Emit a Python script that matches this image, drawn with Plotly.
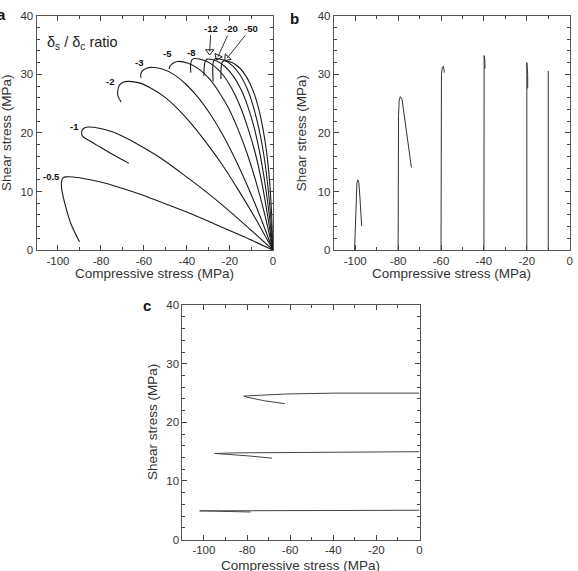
import plotly.graph_objects as go

# ---------------- data ----------------
x_tick_vals = [-100, -80, -60, -40, -20, 0]
x_tick_text = ["-100", "-80", "-60", "-40", "-20", "0"]
y_tick_vals = [0, 10, 20, 30, 40]
y_tick_text = ["0", "10", "20", "30", "40"]

# panel a : stress paths for several delta_s / delta_c ratios
ratio_labels = ["-0.5", "-1", "-2", "-3", "-5", "-8", "-12", "-20", "-50"]
a_m05_x = [0, -14.2, -27.4, -39.5, -50.7, -60.8, -69.8, -77.9, -85.0, -91.0, -96.0, -97.5, -98.4, -98.3, -96.5, -94.0, -90.0]
a_m05_y = [0, 2.4, 4.5, 6.4, 8.0, 9.4, 10.5, 11.4, 12.0, 12.4, 12.5, 12.4, 11.6, 10.5, 7.5, 4.5, 1.4]
a_m1_x = [0, -12.0, -23.2, -33.7, -43.5, -52.4, -60.7, -68.1, -74.8, -80.8, -86.0, -88.0, -89.0, -88.5, -85.5, -80.0, -74.5, -67.0]
a_m1_y = [0, 4.0, 7.6, 10.7, 13.4, 15.75, 17.6, 19.1, 20.2, 20.8, 21.0, 20.8, 20.2, 19.4, 18.7, 17.5, 16.3, 14.8]
a_m2_x = [0, -8.3, -16.3, -23.8, -31.1, -38.0, -44.5, -50.6, -56.5, -61.9, -67.0, -69.5, -71.3, -72.2, -72.0, -70.6]
a_m2_y = [0, 5.5, 10.4, 14.7, 18.4, 21.6, 24.2, 26.2, 27.6, 28.5, 28.8, 28.7, 28.2, 27.2, 26.2, 25.3]
a_m3_x = [0, -6.1, -12.1, -18.0, -23.8, -29.5, -35.1, -40.7, -46.2, -51.5, -56.8, -59.0, -60.8, -61.5, -61.4]
a_m3_y = [0, 5.9, 11.2, 15.9, 20.0, 23.4, 26.2, 28.4, 30.0, 30.9, 31.2, 31.0, 30.6, 30.0, 29.4]
a_m5_x = [0, -3.8, -7.8, -11.9, -16.2, -20.6, -25.1, -29.7, -34.4, -39.4, -44.4, -46.5, -47.9, -48.3]
a_m5_y = [0, 6.1, 11.6, 16.4, 20.6, 24.2, 27.0, 29.3, 30.9, 31.9, 32.2, 31.9, 31.4, 30.9]
a_m8_x = [0, -2.6, -5.3, -8.3, -11.7, -15.2, -19.0, -23.0, -27.3, -31.9, -36.7, -37.8, -38.3, -38.2]
a_m8_y = [0, 6.2, 11.8, 16.7, 20.9, 24.5, 27.5, 29.8, 31.4, 32.4, 32.7, 32.4, 31.5, 30.3]
a_m12_x = [0, -1.75, -3.8, -6.1, -8.7, -11.65, -14.8, -18.4, -22.2, -26.2, -30.6, -31.5, -32.0, -32.1]
a_m12_y = [0, 6.2, 11.7, 16.6, 20.9, 24.5, 27.4, 29.7, 31.3, 32.3, 32.6, 32.2, 31.0, 29.7]
a_m20_x = [0, -1.1, -2.6, -4.4, -6.6, -9.1, -11.9, -15.1, -18.6, -22.5, -26.7, -27.6, -28.0, -27.8]
a_m20_y = [0, 6.2, 11.8, 16.7, 20.9, 24.5, 27.5, 29.8, 31.4, 32.4, 32.7, 32.3, 31.0, 28.8]
a_m50_x = [0, -0.57, -1.5, -2.85, -4.6, -6.65, -9.1, -12.0, -15.2, -18.8, -22.8, -23.7, -24.1, -24.2]
a_m50_y = [0, 6.1, 11.6, 16.5, 20.7, 24.2, 27.1, 29.4, 31.0, 32.0, 32.3, 32.0, 31.0, 29.2]

# label anchor positions (data units) for the ratio labels
label_x = [-102.9, -92.2, -75.6, -62.2, -49.2, -38.1, -28.8, -19.6, -10.3]
label_y = [12.6, 21.1, 28.8, 32.1, 33.5, 33.8, 37.9, 37.8, 37.8]
# arrow tips for labels -12, -20, -50
arrow_tip_x = [-29.4, -25.6, -21.3]
arrow_tip_y = [33.9, 33.0, 32.8]
arrow_angle = [0, 24, 42]

# panel b : constant compressive displacement paths
b_m100_x = [-100.3, -99.9, -99.5, -99.2, -98.8, -98.3, -97.8, -97.2, -97.0]
b_m100_y = [0, 5, 10, 11.5, 12.0, 11.5, 9, 5, 4.1]
b_m80_x = [-80, -80, -79.8, -79.5, -79.0, -78.2, -77.0, -75.5, -73.8]
b_m80_y = [0, 17, 23, 25.5, 26.2, 25.8, 22.5, 18.5, 14.1]
b_m60_x = [-60, -60, -59.8, -59.4, -58.9, -58.6, -58.5]
b_m60_y = [0, 27, 30, 31.2, 31.4, 30.8, 30.3]
b_m40_x = [-40, -40, -39.9, -39.6, -39.5]
b_m40_y = [0, 31, 33.2, 32.5, 31.0]
b_m20_x = [-20, -20, -19.6, -19.6]
b_m20_y = [0, 32.0, 30.0, 27.6]
b_m10_x = [-10, -10]
b_m10_y = [0, 30.6]

# panel c : constant shear displacement paths
c_5_x = [0, -60, -90, -102.0, -95, -85, -78.3]
c_5_y = [5.0, 5.0, 4.95, 4.9, 4.85, 4.75, 4.7]
c_15_x = [0, -40, -65, -85, -95, -90, -80, -68.4]
c_15_y = [15.0, 14.95, 14.9, 14.8, 14.7, 14.6, 14.3, 13.9]
c_25_x = [0, -40, -62, -75, -80, -81.5, -80, -72, -62.5]
c_25_y = [25.0, 25.0, 24.85, 24.7, 24.6, 24.5, 24.3, 23.7, 23.2]

# ---------------- figure ----------------
FONT = "Liberation Sans, Arial, sans-serif"
W, H = 578, 571
fig = go.Figure()

a_curves = [(a_m05_x, a_m05_y), (a_m1_x, a_m1_y), (a_m2_x, a_m2_y), (a_m3_x, a_m3_y),
            (a_m5_x, a_m5_y), (a_m8_x, a_m8_y), (a_m12_x, a_m12_y), (a_m20_x, a_m20_y),
            (a_m50_x, a_m50_y)]
for cx, cy in a_curves:
    fig.add_trace(go.Scatter(x=cx, y=cy, mode="lines", xaxis="x", yaxis="y",
                             line=dict(color="#1a1a1a", width=1.1, shape="spline", smoothing=0.7),
                             hoverinfo="skip"))

fig.add_trace(go.Scatter(x=arrow_tip_x, y=arrow_tip_y, mode="markers", xaxis="x", yaxis="y",
                         marker=dict(symbol="triangle-down-open", size=7, angle=arrow_angle,
                                     color="#1a1a1a", line=dict(width=1, color="#1a1a1a")),
                         hoverinfo="skip"))

for cx, cy in [(b_m100_x, b_m100_y), (b_m80_x, b_m80_y), (b_m60_x, b_m60_y),
               (b_m40_x, b_m40_y), (b_m20_x, b_m20_y), (b_m10_x, b_m10_y)]:
    fig.add_trace(go.Scatter(x=cx, y=cy, mode="lines", xaxis="x2", yaxis="y2",
                             line=dict(color="#333333", width=1), hoverinfo="skip"))

for cx, cy in [(c_5_x, c_5_y), (c_15_x, c_15_y), (c_25_x, c_25_y)]:
    fig.add_trace(go.Scatter(x=cx, y=cy, mode="lines", xaxis="x3", yaxis="y3",
                             line=dict(color="#444444", width=1), hoverinfo="skip"))


def xax(domain, anchor):
    return dict(domain=domain, anchor=anchor, range=[-110, 0], tickmode="array",
                tickvals=x_tick_vals, ticktext=x_tick_text, ticks="inside", ticklen=5,
                tickcolor="#444", tickwidth=1, showline=True, linecolor="#555", linewidth=1,
                mirror="ticks", showgrid=False, zeroline=False,
                minor=dict(tickmode="linear", tick0=0, dtick=10, ticks="inside", ticklen=3,
                           tickcolor="#444", showgrid=False),
                tickfont=dict(family=FONT, size=11.5, color="#333"))


def yax(domain, anchor):
    return dict(domain=domain, anchor=anchor, range=[0, 40], tickmode="array",
                tickvals=y_tick_vals, ticktext=y_tick_text, ticks="inside", ticklen=5,
                tickcolor="#444", tickwidth=1, showline=True, linecolor="#555", linewidth=1,
                mirror="ticks", showgrid=False, zeroline=False,
                minor=dict(tickmode="linear", tick0=0, dtick=2, ticks="inside", ticklen=3,
                           tickcolor="#444", showgrid=False),
                tickfont=dict(family=FONT, size=11.5, color="#333"))


def px_x(p):
    return p / W


def px_y(p):
    return 1 - p / H


dom_a_x = [px_x(36.7), px_x(274.3)]
dom_b_x = [px_x(335.5), px_x(572.7)]
dom_ab_y = [px_y(249.3), px_y(10)]
dom_c_x = [px_x(183.3), px_x(421.7)]
dom_c_y = [px_y(545), px_y(305.7)]

fig.update_layout(
    width=W, height=H, margin=dict(l=0, r=0, t=0, b=0),
    paper_bgcolor="white", plot_bgcolor="white", showlegend=False,
    xaxis=xax(dom_a_x, "y"), yaxis=yax(dom_ab_y, "x"),
    xaxis2=xax(dom_b_x, "y2"), yaxis2=yax(dom_ab_y, "x2"),
    xaxis3=xax(dom_c_x, "y3"), yaxis3=yax(dom_c_y, "x3"),
)

ann = []
title_font = dict(family=FONT, size=13.5, color="#333")
xt = "Compressive stress (MPa)"
yt = "Shear stress (MPa)"
for dom in (dom_a_x, dom_b_x):
    ann.append(dict(text=xt, xref="paper", yref="paper", x=sum(dom) / 2, y=px_y(273),
                    xanchor="center", yanchor="middle", showarrow=False, font=title_font))
ann.append(dict(text=xt, xref="paper", yref="paper", x=sum(dom_c_x) / 2, y=px_y(571),
                xanchor="center", yanchor="middle", showarrow=False, font=title_font))
for xp, dom in ((7, dom_ab_y), (304, dom_ab_y), (153.5, dom_c_y)):
    ann.append(dict(text=yt, xref="paper", yref="paper", x=px_x(xp), y=sum(dom) / 2,
                    xanchor="center", yanchor="middle", textangle=-90, showarrow=False,
                    font=title_font))

# panel letters
panel_font = dict(family=FONT, size=15, color="#111")
for t, xp, yp in (("a", 2, 9), ("b", 296, 13), ("c", 148, 306)):
    ann.append(dict(text="<b>%s</b>" % t, xref="paper", yref="paper", x=px_x(xp), y=px_y(yp),
                    xanchor="center", yanchor="middle", showarrow=False, font=panel_font))

# ratio heading
ann.append(dict(text="δ<sub>s</sub> / δ<sub>c</sub> ratio", xref="x", yref="y", x=-88.4, y=35.3,
                xanchor="center", yanchor="middle", showarrow=False,
                font=dict(family=FONT, size=14.5, color="#222")))

lab_font = dict(family=FONT, size=9.5, color="#111")
for i, lab in enumerate(ratio_labels):
    if i < 6:
        ann.append(dict(text="<b>%s</b>" % lab, xref="x", yref="y", x=label_x[i], y=label_y[i],
                        xanchor="center", yanchor="middle", showarrow=False, font=lab_font))
    else:
        j = i - 6
        ann.append(dict(text="<b>%s</b>" % lab, xref="x", yref="y", x=arrow_tip_x[j],
                        y=arrow_tip_y[j], axref="x", ayref="y", ax=label_x[i], ay=label_y[i],
                        showarrow=True, arrowhead=0, arrowwidth=0.9, arrowcolor="#1a1a1a",
                        standoff=0, font=lab_font))

fig.update_layout(annotations=ann)
fig.write_html("out.html")
